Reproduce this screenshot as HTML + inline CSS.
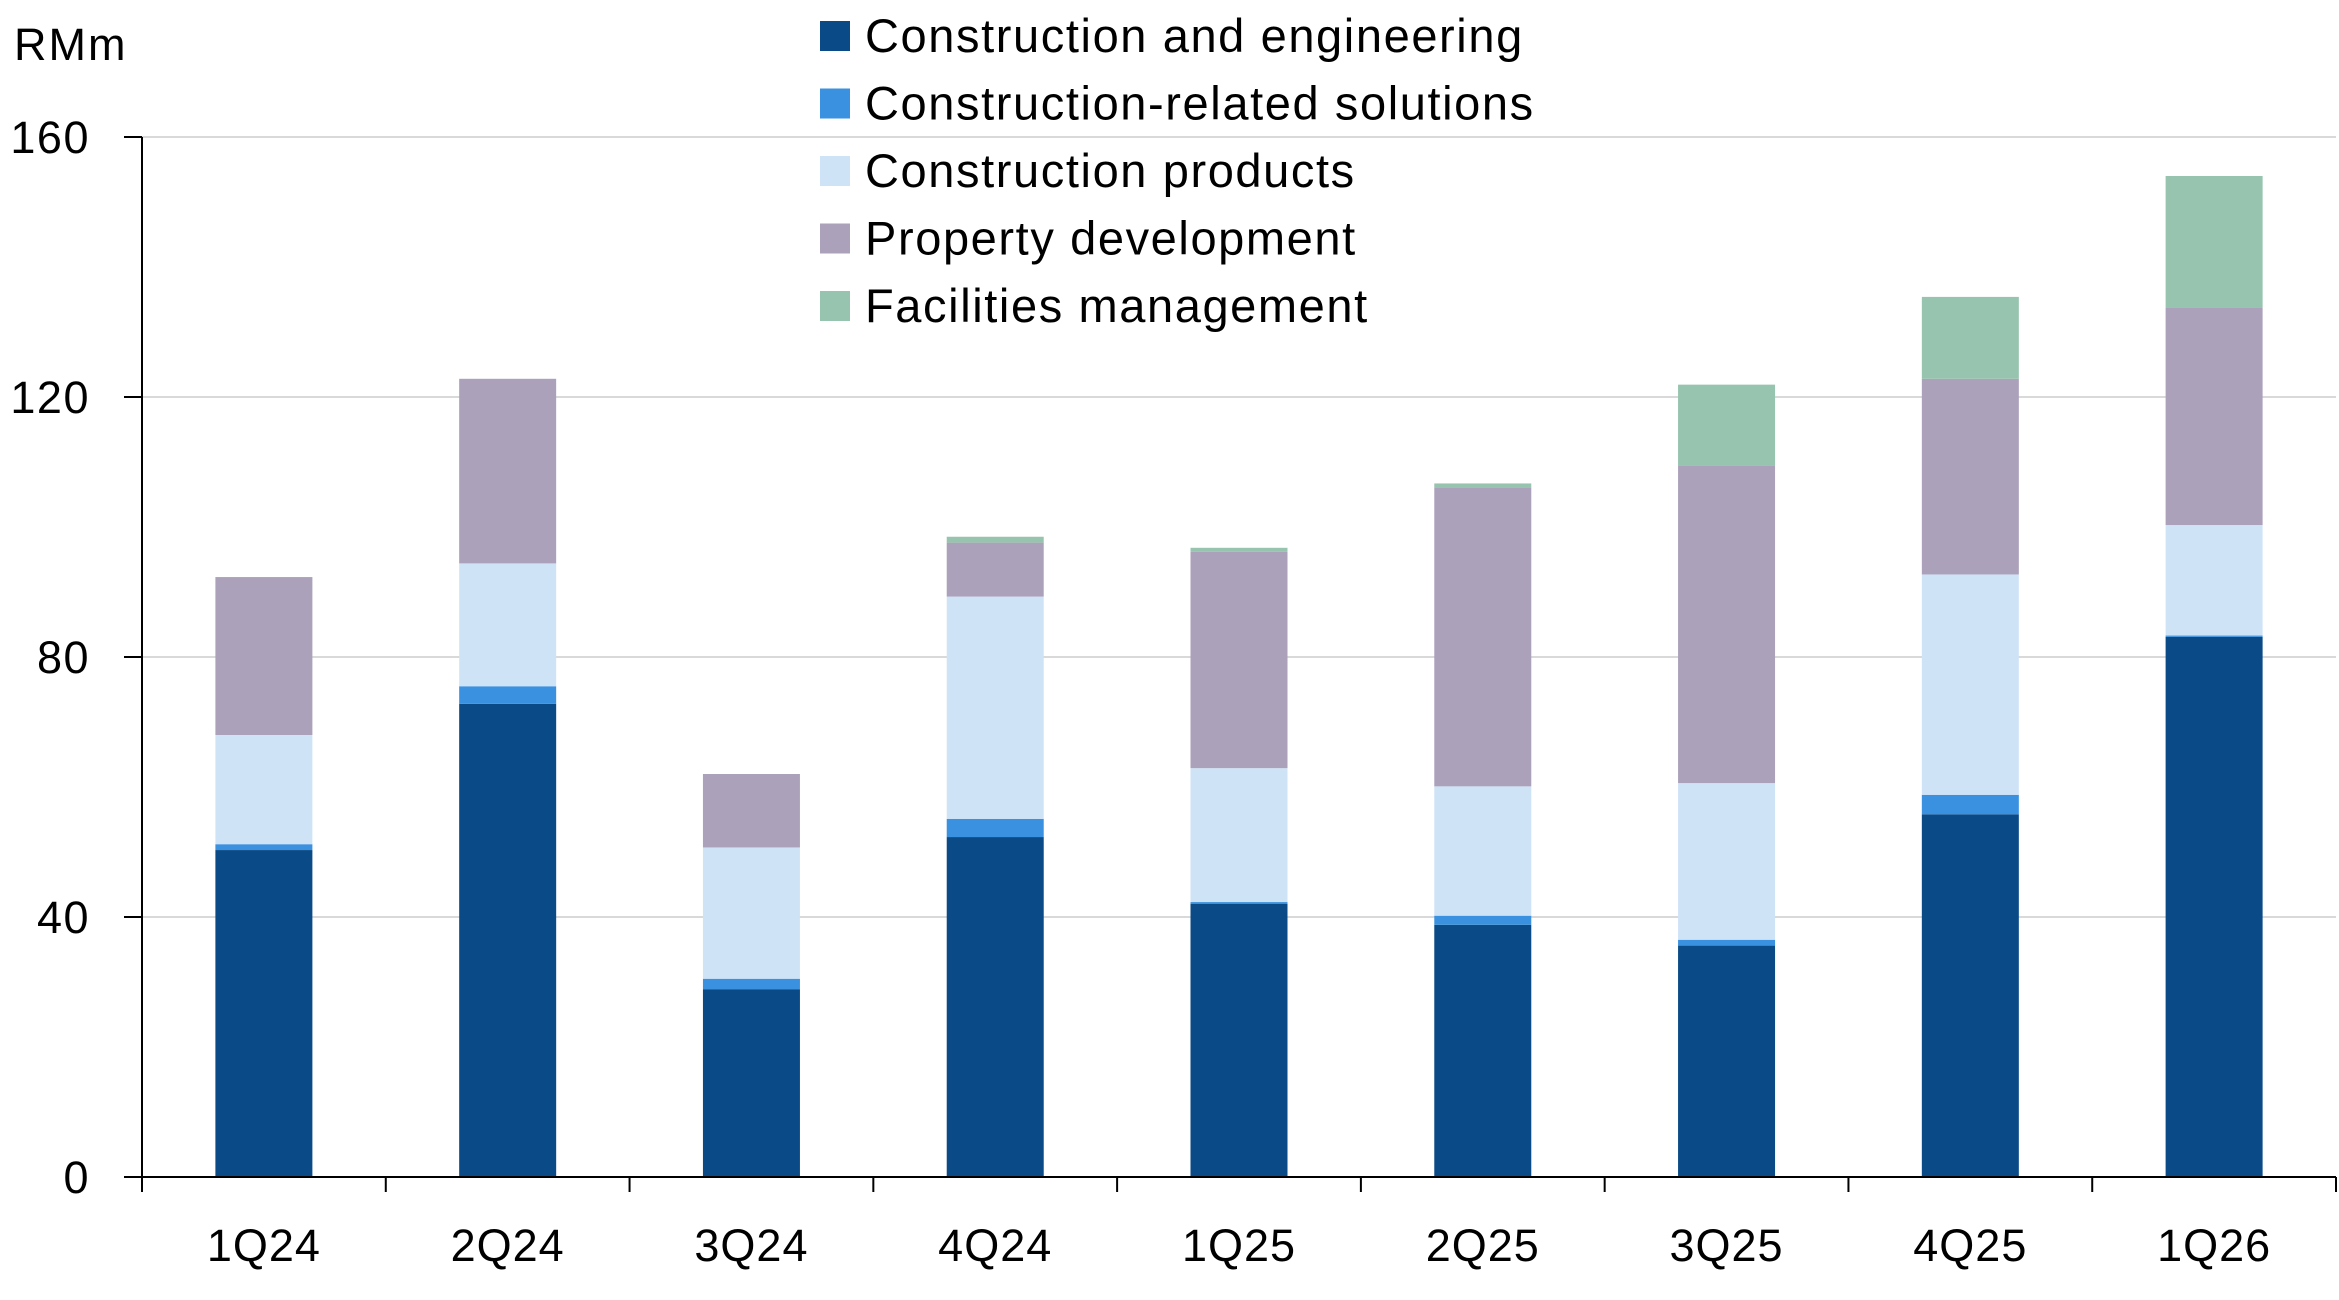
<!DOCTYPE html>
<html><head><meta charset="utf-8"><style>
html,body{margin:0;padding:0;background:#fff;}
svg{display:block;font-family:"Liberation Sans",sans-serif;}
</style></head><body>
<svg id="chart" width="2339" height="1300" viewBox="0 0 2339 1300"></svg>
<script>
const categories=["1Q24","2Q24","3Q24","4Q24","1Q25","2Q25","3Q25","4Q25","1Q26"];
const seriesNames=["Construction and engineering","Construction-related solutions","Construction products","Property development","Facilities management"];
const ceValues=[50.3,72.8,28.9,52.3,42.0,38.8,35.6,55.8,83.1];
const crsValues=[0.9,2.7,1.6,2.8,0.3,1.4,0.9,3.0,0.2];
const cpValues=[16.8,18.9,20.2,34.2,20.6,19.9,24.1,33.9,17.0];
const pdValues=[24.3,28.4,11.3,8.3,33.3,46.0,48.9,30.1,33.5];
const fmValues=[0,0,0,0.9,0.6,0.6,12.4,12.6,20.2];
const yTicks=[0,40,80,120,160];
const colors=["#0a4a87","#3a91e0","#cfe3f7","#aca1bb","#97c4ae"];
const series=[ceValues,crsValues,cpValues,pdValues,fmValues];
const NS="http://www.w3.org/2000/svg";
const svg=document.getElementById('chart');
const L=142,R=2336,Y0=1177,Y160=137;
const y=v=>Y0-(v/160)*(Y0-Y160);
const bw=(R-L)/categories.length;
const xc=i=>L+bw*(i+0.5);
function mk(t,a){const e=document.createElementNS(NS,t);for(const k in a)e.setAttribute(k,a[k]);svg.appendChild(e);return e;}
yTicks.forEach(t=>{
  if(t>0){const g=mk('line',{x1:L,x2:R,y1:y(t),y2:y(t),stroke:'#d9d9d9','stroke-width':2});
  
  }
  const tk=mk('line',{x1:L-18,x2:L,y1:y(t),y2:y(t),stroke:'#000','stroke-width':2});
  
  
  const tx=mk('text',{x:90,y:y(t)+16,'text-anchor':'end','font-size':45,'letter-spacing':1.5,fill:'#000'});
  tx.textContent=t;
  
  
});
categories.forEach((c,i)=>{
  let acc=0;
  series.forEach((s,k)=>{
    const v=s[i];if(v<=0)return;
    const r=mk('rect',{x:xc(i)-48.5,width:97,y:y(acc+v),height:y(acc)-y(acc+v),fill:colors[k]});
    
    
    acc+=v;
  });
  const tx=mk('text',{x:xc(i),y:1261,'text-anchor':'middle','font-size':45,'letter-spacing':1,fill:'#000'});
  tx.textContent=c;
  
  
});
for(let i=0;i<=categories.length;i++){
  const t=mk('line',{x1:L+bw*i,x2:L+bw*i,y1:Y0,y2:Y0+15,stroke:'#000','stroke-width':2});
  
  
}
const ya=mk('line',{x1:L,x2:L,y1:Y160,y2:Y0,stroke:'#000','stroke-width':2});


const xa=mk('line',{x1:L,x2:R,y1:Y0,y2:Y0,stroke:'#000','stroke-width':2});


const u=mk('text',{x:14,y:60,'font-size':45,'letter-spacing':2,fill:'#000'});
u.textContent='RMm';


seriesNames.forEach((n,k)=>{
  const cy=36+k*67.5;
  const sq=mk('rect',{x:820,y:cy-15,width:30,height:30,fill:colors[k]});
  
  
  const t=mk('text',{x:865,y:cy+16,'font-size':47,'letter-spacing':1.6,fill:'#000'});
  t.textContent=n;
  
  
});
</script>
</body></html>
